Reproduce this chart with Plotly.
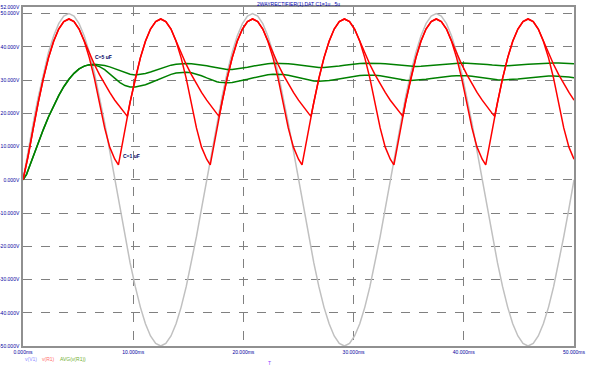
import plotly.graph_objects as go

# Time samples (ms)
t_ms = [
    0.00, 0.32, 0.46, 0.93, 1.13, 1.39, 1.85, 2.31, 2.78, 3.24, 3.70, 4.17, 4.63, 5.09, 5.56, 6.02, 6.48, 6.94, 7.41, 7.87,
    8.33, 8.66, 8.80, 9.26, 9.47, 9.72, 10.19, 10.65, 11.11, 11.57, 12.04, 12.50, 12.96, 13.43, 13.89, 14.35, 14.81, 15.28, 15.74, 16.20,
    16.67, 16.99, 17.13, 17.59, 17.80, 18.06, 18.52, 18.98, 19.44, 19.91, 20.37, 20.83, 21.30, 21.76, 22.22, 22.69, 23.15, 23.61, 24.07, 24.54,
    25.00, 25.32, 25.46, 25.93, 26.13, 26.39, 26.85, 27.31, 27.78, 28.24, 28.70, 29.17, 29.63, 30.09, 30.56, 31.02, 31.48, 31.94, 32.41, 32.87,
    33.33, 33.66, 33.80, 34.26, 34.47, 34.72, 35.19, 35.65, 36.11, 36.57, 37.04, 37.50, 37.96, 38.43, 38.89, 39.35, 39.81, 40.28, 40.74, 41.20,
    41.67, 41.99, 42.13, 42.59, 42.80, 43.06, 43.52, 43.98, 44.44, 44.91, 45.37, 45.83, 46.30, 46.76, 47.22, 47.69, 48.15, 48.61, 49.07, 49.54,
    50.00,
]

# v(V1) source voltage (V)
v_v1 = [
    0.00, 6.09, 8.68, 17.10, 20.74, 25.00, 32.14, 38.30, 43.30, 46.98, 49.24, 50.00, 49.24, 46.98, 43.30, 38.30, 32.14, 25.00, 17.10, 8.68,
    0.00, -6.09, -8.68, -17.10, -20.74, -25.00, -32.14, -38.30, -43.30, -46.98, -49.24, -50.00, -49.24, -46.98, -43.30, -38.30, -32.14, -25.00, -17.10, -8.68,
    0.00, 6.09, 8.68, 17.10, 20.74, 25.00, 32.14, 38.30, 43.30, 46.98, 49.24, 50.00, 49.24, 46.98, 43.30, 38.30, 32.14, 25.00, 17.10, 8.68,
    0.00, -6.09, -8.68, -17.10, -20.74, -25.00, -32.14, -38.30, -43.30, -46.98, -49.24, -50.00, -49.24, -46.98, -43.30, -38.30, -32.14, -25.00, -17.10, -8.68,
    0.00, 6.09, 8.68, 17.10, 20.74, 25.00, 32.14, 38.30, 43.30, 46.98, 49.24, 50.00, 49.24, 46.98, 43.30, 38.30, 32.14, 25.00, 17.10, 8.68,
    0.00, -6.09, -8.68, -17.10, -20.74, -25.00, -32.14, -38.30, -43.30, -46.98, -49.24, -50.00, -49.24, -46.98, -43.30, -38.30, -32.14, -25.00, -17.10, -8.68,
    0.00,
]

# v(R1) with C=5uF (V)
v_r1_c5 = [
    0.00, 4.49, 7.08, 15.50, 19.14, 23.40, 30.54, 36.70, 41.70, 45.38, 47.64, 48.40, 47.64, 45.38, 41.76, 38.07, 34.71, 31.63, 28.84, 26.29,
    23.96, 22.45, 21.85, 19.91, 19.10, 23.40, 30.54, 36.70, 41.70, 45.38, 47.64, 48.40, 47.64, 45.38, 41.76, 38.07, 34.71, 31.63, 28.84, 26.29,
    23.96, 22.45, 21.85, 19.91, 19.10, 23.40, 30.54, 36.70, 41.70, 45.38, 47.64, 48.40, 47.64, 45.38, 41.76, 38.07, 34.71, 31.63, 28.84, 26.29,
    23.96, 22.45, 21.85, 19.91, 19.10, 23.40, 30.54, 36.70, 41.70, 45.38, 47.64, 48.40, 47.64, 45.38, 41.76, 38.07, 34.71, 31.63, 28.84, 26.29,
    23.96, 22.45, 21.85, 19.91, 19.10, 23.40, 30.54, 36.70, 41.70, 45.38, 47.64, 48.40, 47.64, 45.38, 41.76, 38.07, 34.71, 31.63, 28.84, 26.29,
    23.96, 22.45, 21.85, 19.91, 19.10, 23.40, 30.54, 36.70, 41.70, 45.38, 47.64, 48.40, 47.64, 45.38, 41.76, 38.07, 34.71, 31.63, 28.84, 26.29,
    23.96,
]

# v(R1) with C=1uF (V)
v_r1_c1 = [
    0.00, 4.49, 7.08, 15.50, 19.14, 23.40, 30.54, 36.70, 41.70, 45.38, 47.64, 48.40, 47.64, 45.38, 41.70, 36.70, 30.54, 23.40, 15.61, 9.83,
    6.19, 4.48, 7.08, 15.50, 19.14, 23.40, 30.54, 36.70, 41.70, 45.38, 47.64, 48.40, 47.64, 45.38, 41.70, 36.70, 30.54, 23.40, 15.61, 9.83,
    6.19, 4.48, 7.08, 15.50, 19.14, 23.40, 30.54, 36.70, 41.70, 45.38, 47.64, 48.40, 47.64, 45.38, 41.70, 36.70, 30.54, 23.40, 15.61, 9.83,
    6.19, 4.48, 7.08, 15.50, 19.14, 23.40, 30.54, 36.70, 41.70, 45.38, 47.64, 48.40, 47.64, 45.38, 41.70, 36.70, 30.54, 23.40, 15.61, 9.83,
    6.19, 4.48, 7.08, 15.50, 19.14, 23.40, 30.54, 36.70, 41.70, 45.38, 47.64, 48.40, 47.64, 45.38, 41.70, 36.70, 30.54, 23.40, 15.61, 9.83,
    6.19, 4.48, 7.08, 15.50, 19.14, 23.40, 30.54, 36.70, 41.70, 45.38, 47.64, 48.40, 47.64, 45.38, 41.70, 36.70, 30.54, 23.40, 15.61, 9.83,
    6.19,
]

# AVG(v(R1)) with C=5uF (V)
avg_c5 = [
    0.00, 1.66, 2.90, 7.11, 8.99, 11.24, 15.19, 18.90, 22.30, 25.35, 28.01, 30.25, 32.04, 33.36, 34.22, 34.66, 34.78, 34.67, 34.39, 33.99,
    33.49, 33.11, 32.94, 32.33, 32.05, 31.77, 31.55, 31.65, 31.97, 32.43, 32.98, 33.54, 34.06, 34.50, 34.80, 34.97, 35.01, 34.95, 34.81, 34.61,
    34.34, 34.13, 34.03, 33.69, 33.52, 33.35, 33.19, 33.20, 33.35, 33.59, 33.88, 34.20, 34.50, 34.76, 34.95, 35.05, 35.07, 35.04, 34.94, 34.80,
    34.62, 34.48, 34.41, 34.17, 34.05, 33.93, 33.81, 33.81, 33.90, 34.06, 34.26, 34.48, 34.70, 34.88, 35.01, 35.09, 35.10, 35.08, 35.01, 34.90,
    34.77, 34.65, 34.60, 34.42, 34.33, 34.23, 34.14, 34.13, 34.20, 34.32, 34.47, 34.64, 34.80, 34.95, 35.05, 35.11, 35.12, 35.10, 35.04, 34.96,
    34.85, 34.76, 34.72, 34.57, 34.49, 34.42, 34.34, 34.33, 34.38, 34.48, 34.60, 34.74, 34.87, 34.99, 35.08, 35.12, 35.13, 35.12, 35.07, 35.00,
    34.91,
]

# AVG(v(R1)) with C=1uF (V)
avg_c1 = [
    0.00, 1.66, 2.90, 7.11, 8.99, 11.24, 15.19, 18.90, 22.30, 25.35, 28.01, 30.25, 32.04, 33.36, 34.22, 34.61, 34.55, 34.05, 33.14, 31.93,
    30.59, 29.64, 29.27, 28.37, 28.13, 27.95, 27.91, 28.16, 28.62, 29.22, 29.89, 30.57, 31.20, 31.73, 32.13, 32.36, 32.40, 32.24, 31.86, 31.31,
    30.66, 30.18, 29.98, 29.49, 29.35, 29.23, 29.18, 29.29, 29.53, 29.85, 30.24, 30.63, 31.01, 31.35, 31.60, 31.76, 31.80, 31.71, 31.47, 31.11,
    30.68, 30.36, 30.22, 29.89, 29.79, 29.71, 29.66, 29.73, 29.89, 30.11, 30.38, 30.66, 30.93, 31.18, 31.37, 31.48, 31.52, 31.45, 31.28, 31.02,
    30.70, 30.45, 30.35, 30.09, 30.02, 29.95, 29.91, 29.96, 30.08, 30.25, 30.46, 30.68, 30.89, 31.08, 31.23, 31.32, 31.35, 31.30, 31.17, 30.96,
    30.70, 30.51, 30.42, 30.22, 30.15, 30.10, 30.07, 30.11, 30.20, 30.34, 30.51, 30.69, 30.86, 31.02, 31.14, 31.22, 31.24, 31.20, 31.09, 30.92,
    30.71,
]

x_ticks = [0, 10, 20, 30, 40, 50]
x_tick_labels = ["0.000ms", "10.000ms", "20.000ms", "30.000ms", "40.000ms", "50.000ms"]
y_ticks = [52, 50, 40, 30, 20, 10, 0, -10, -20, -30, -40, -50]
y_tick_labels = ["52.000V", "50.000V", "40.000V", "30.000V", "20.000V", "10.000V", "0.000V",
                 "-10.000V", "-20.000V", "-30.000V", "-40.000V", "-50.000V"]

fig = go.Figure()
fig.add_trace(go.Scatter(x=t_ms, y=v_v1, mode="lines", line=dict(color="#c0c0c0", width=1.5), name="v(V1)"))
fig.add_trace(go.Scatter(x=t_ms, y=avg_c5, mode="lines", line=dict(color="#008000", width=1.5), name="AVG(v(R1)) C=5uF"))
fig.add_trace(go.Scatter(x=t_ms, y=avg_c1, mode="lines", line=dict(color="#008000", width=1.5), name="AVG(v(R1)) C=1uF"))
fig.add_trace(go.Scatter(x=t_ms, y=v_r1_c5, mode="lines", line=dict(color="#ff0000", width=1.5), name="v(R1) C=5uF"))
fig.add_trace(go.Scatter(x=t_ms, y=v_r1_c1, mode="lines", line=dict(color="#ff0000", width=1.5), name="v(R1) C=1uF"))

tickfont = dict(family="Liberation Sans", size=5, color="#0000a0")
fig.update_xaxes(range=[0, 50], tickvals=x_ticks, ticktext=x_tick_labels, tickfont=tickfont,
                 showgrid=True, gridcolor="#808080", griddash="dash", gridwidth=1,
                 showline=True, linecolor="#909090", linewidth=1.5, mirror=True,
                 zeroline=False, ticks="", ticklabelstandoff=0, automargin=False)
fig.update_yaxes(range=[-50, 52], tickvals=y_ticks, ticktext=y_tick_labels, tickfont=tickfont,
                 showgrid=True, gridcolor="#808080", griddash="dash", gridwidth=1,
                 showline=True, linecolor="#909090", linewidth=1.5, mirror=True,
                 zeroline=False, ticks="", ticklabelstandoff=1, automargin=False)

ann_font = dict(family="Liberation Sans", size=5)
legend_y = -0.039
annotations = [
    dict(text="2WAYRECTIFIER(1).DAT C1=1u...5u", xref="paper", yref="paper", x=0.50, y=1.0088,
         xanchor="center", yanchor="middle", showarrow=False, font=dict(family="Liberation Sans", size=5, color="#0000b0")),
    dict(text="<b>C=5 uF</b>", x=6.35, y=37.0, xanchor="left", yanchor="middle", showarrow=False,
         font=dict(family="Liberation Sans", size=5, color="#000060")),
    dict(text="<b>C=1 uF</b>", x=8.89, y=7.2, xanchor="left", yanchor="middle", showarrow=False,
         font=dict(family="Liberation Sans", size=5, color="#000060")),
    dict(text="v(V1)", xref="paper", yref="paper", x=0.0, y=legend_y, xanchor="left", yanchor="middle",
         showarrow=False, font=dict(ann_font, color="#9090ff")),
    dict(text="v(R1)", xref="paper", yref="paper", x=0.031, y=legend_y, xanchor="left", yanchor="middle",
         showarrow=False, font=dict(ann_font, color="#ff7070")),
    dict(text="AVG(v(R1))", xref="paper", yref="paper", x=0.064, y=legend_y, xanchor="left", yanchor="middle",
         showarrow=False, font=dict(ann_font, color="#70b030")),
    dict(text="T", xref="paper", yref="paper", x=0.448, y=-0.049, xanchor="center", yanchor="middle",
         showarrow=False, font=dict(ann_font, color="#9040ff")),
]

fig.update_layout(
    width=589, height=370,
    margin=dict(l=23, r=15, t=7, b=24, autoexpand=False),
    paper_bgcolor="white", plot_bgcolor="white",
    showlegend=False,
    annotations=annotations,
)

fig.write_html("out.html", config={"displayModeBar": False},
               post_script="document.body.style.margin='0px';document.body.style.padding='0px';")
